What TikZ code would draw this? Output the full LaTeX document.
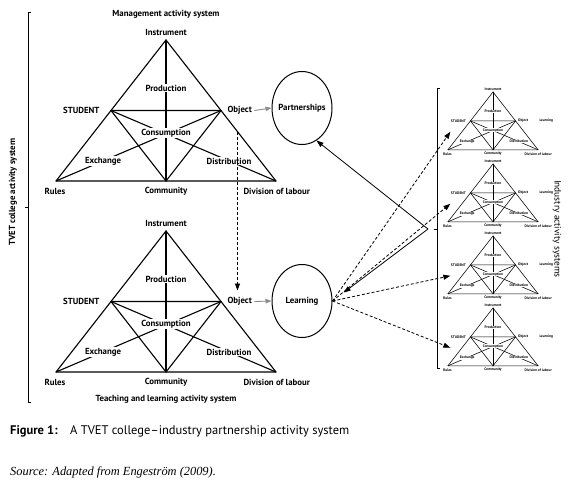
\documentclass[tikz,border=0pt]{standalone}
\usepackage{fontspec}
\setmainfont{PT Sans}
\newfontfamily\serifit{Liberation Serif}
\usetikzlibrary{shapes.geometric,arrows.meta,calc}
\tikzset{
  tri/.style={line join=round, line cap=round},
  lab/.style={font=\fontsize{8.8}{10}\selectfont\bfseries, inner sep=1pt},
  masklab/.style={lab, fill=white},
  brk/.style={line width=1pt},
  grayarr/.style={draw=black!45, line width=0.9pt, -{Triangle[length=6pt,width=4.5pt]}, fill=black!45},
  dasharr/.style={line width=0.8pt, dash pattern=on 3pt off 2pt, -{Triangle[length=7pt,width=5pt]}},
  conn/.style={line width=0.8pt, -{Triangle[length=7pt,width=5pt]}},
  ell/.style={draw, ellipse, line width=1pt, inner sep=0pt, minimum width=60pt, minimum height=73pt},
  pics/actsys/.style={code={
    \coordinate (-I) at (0,0);
    \coordinate (-S) at (-55,70.5);
    \coordinate (-O) at (55,70.5);
    \coordinate (-R) at (-110,141);
    \coordinate (-C) at (0,141);
    \coordinate (-D) at (110,141);
    \coordinate (-in) at (-104,97);
    \draw[tri] (-I) -- (-R) -- (-D) -- cycle;
    \draw[tri] (-I) -- (-C);
    \draw[tri] (-S) -- (-O) -- (-C) -- cycle;
    \draw[tri] (-S) -- (-D);
    \draw[tri] (-O) -- (-R);
    \node[masklab] (-prod) at (0,48) {Production};
    \node[masklab] (-cons) at (0,93) {Consumption};
    \node[masklab] (-exch) at (-63,121) {Exchange};
    \node[masklab] (-dist) at (63,121) {Distribution};
    \node[lab, anchor=south] (-inst) at (0,-3) {Instrument};
    \node[lab, anchor=east] (-stud) at (-65,70.5) {STUDENT};
    \node[lab, anchor=west] (-obj) at (60,70.5) {Object};
    \node[lab] (-rules) at (-111,151) {Rules};
    \node[lab] (-comm) at (0,151) {Community};
    \node[lab, anchor=west] (-div) at (76,151) {Division of labour};
  }}
}
\begin{document}
\begin{tikzpicture}[x=1pt,y=-1pt]
\useasboundingbox (0,0) rectangle (580,482);

% main triangles
\pic[line width=1.1pt] (top) at (166,40) {actsys};
\pic[line width=1.1pt] (bot) at (166,231) {actsys};
\node[lab] (mgmt) at (166,14) {Management activity system};
\node[lab] (teach) at (166,399) {Teaching and learning activity system};

% small industry triangles
\foreach \n/\y in {t1/92,t2/164,t3/236,t4/308}{
  \pic[scale=0.41, transform shape, line width=0.55pt] (\n) at (493,\y) {actsys};
  \node[lab, scale=0.41, anchor=west] (\n-learn) at (539,\y+29) {Learning};
}

% left bracket
\draw[brk] (31,12) -- (28,12) -- (28,402) -- (31,402);
\draw[brk] (28,207) -- (24.5,207);
\node[lab, rotate=90] (tvet) at (13,192) {TVET college activity system};

% right bracket
\draw[brk] (440,88) -- (437,88) -- (437,368) -- (440,368);
\draw[brk] (437,229) -- (433.5,229);
\node[font=\fontsize{9.3}{10}\selectfont, rotate=-90] (ind) at (557,229) {Industry activity systems};

% ellipses
\node[ell] (partner) at (302,108) {};
\node[lab] (partnerlab) at (partner.center) {Partnerships};
\node[ell] (learn) at (302,301) {};
\node[lab] (learnlab) at (learn.center) {Learning};

% gray arrows object -> outcome
\draw[grayarr] (top-obj.east) ++(1,0) -- (partner.west);
\draw[grayarr] (bot-obj.east) ++(1,0) -- (learn.west);

% dashed vertical arrow
\coordinate (dstart) at ($(top-O)!0.3!(top-D)$);
\coordinate (dend) at ($(dstart |- bot-O)+(0,-11)$);
\draw[dasharr] (dstart) -- (dend);

% solid connectors from industry
\coordinate (hub) at (428,229);
\draw[conn] (hub) -- (partner.-66);
\draw[conn, shorten >=14pt] (hub) -- (learn.east);

% dashed connectors to industry systems
\foreach \n in {t1,t2,t3,t4}{
  \draw[dasharr] (learn.east) -- (\n-in);
}

% caption
\node[anchor=base west, font=\fontsize{12.5}{14}\selectfont\bfseries, inner sep=0pt] (figlab) at (10,434) {Figure 1:};
\node[anchor=base west, font=\fontsize{12.5}{14}\selectfont, inner sep=0pt] (figcap) at (70,434) {A TVET college–industry partnership activity system};
\node[anchor=base west, font=\fontsize{12.4}{14}\selectfont\serifit\itshape, inner sep=0pt] (src) at (10,475) {Source: Adapted from Engeström (2009).};
\end{tikzpicture}
\end{document}
